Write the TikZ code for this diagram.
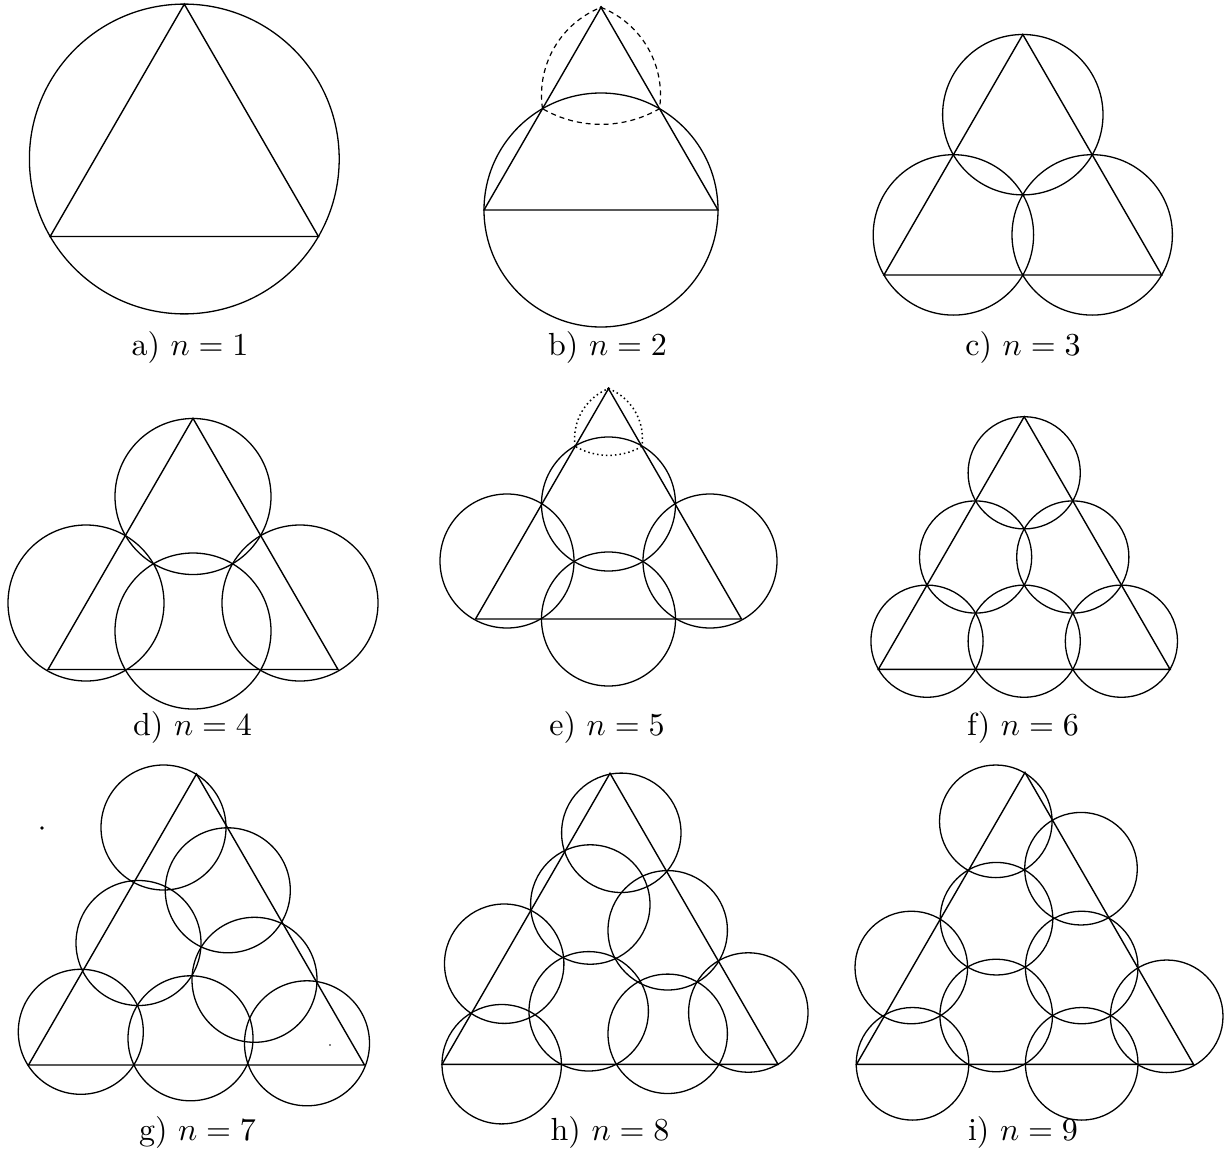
\documentclass[tikz,border=0pt]{standalone}
\usepackage{tikz}
\newcommand\eqtri[3]{\draw[triline] ({#1-#3/2},#2) -- ({#1+#3/2},#2) -- ({#1},{#2-0.8660254*#3}) -- cycle;}
\newcommand\lab[1]{\scalebox{3.2}{#1}}
\begin{document}
\begin{tikzpicture}[x=1pt,y=-1pt,
  triline/.style={draw=black,line width=1.4pt,line join=miter},
  disk/.style={draw=black,line width=1.3pt},
  dashb/.style={draw=black,line width=1.2pt,dash pattern=on 5pt off 4pt},
  dote/.style={draw=black,line width=1.5pt,dash pattern=on 1.5pt off 3pt},
  lbl/.style={anchor=base,inner sep=0pt}]
\useasboundingbox (0,0) rectangle (1232,1151);
% ---------- a) n=1
\eqtri{184.3}{236.5}{268.3}
\draw[disk] (184.3,159.0) circle[radius=154.9pt];
\node[lbl] (la) at (190,355) {\lab{a) $n=1$}};
% ---------- b) n=2
\eqtri{601}{210}{234}
\draw[disk] (601,210) circle[radius=117pt];
\draw[dashb] (635.8,95) ++(188.35:94.3pt)
  arc[start angle=188.35,end angle=111.66,radius=94.3pt]
  arc[start angle=68.34,end angle=-8.35,radius=94.3pt]
  arc[start angle=300,end angle=240,radius=117pt];
\fill (601,7.35) circle[radius=1.6pt];
\node[lbl] (lb) at (607.5,355) {\lab{b) $n=2$}};
% ---------- c) n=3
\eqtri{1022.8}{275}{277.7}
\draw[disk] (1022.8,114.7) circle[radius=80.2pt];
\draw[disk] (953.4,234.9) circle[radius=80.2pt];
\draw[disk] (1092.2,234.9) circle[radius=80.2pt];
\node[lbl] (lc) at (1023,355) {\lab{c) $n=3$}};
% ---------- d) n=4
\eqtri{193}{669.5}{290}
\draw[disk] (193,496.5) circle[radius=78pt];
\draw[disk] (86,603) circle[radius=78pt];
\draw[disk] (300,603) circle[radius=78pt];
\draw[disk] (193,631) circle[radius=78pt];
\node[lbl] (ld) at (192.5,735) {\lab{d) $n=4$}};
% ---------- e) n=5
\eqtri{608.5}{619}{266}
\draw[disk] (608.5,504) circle[radius=67pt];
\draw[disk] (507,561) circle[radius=67pt];
\draw[disk] (710,561) circle[radius=67pt];
\draw[disk] (608.5,619) circle[radius=67pt];
\draw[dote] (628.4,438.6) ++(188.35:53.8pt)
  arc[start angle=188.35,end angle=111.66,radius=53.8pt]
  arc[start angle=68.34,end angle=-8.35,radius=53.8pt]
  arc[start angle=300,end angle=240,radius=66.8pt];
\fill (608.5,388.6) circle[radius=1.6pt];
\node[lbl] (le) at (607,735) {\lab{e) $n=5$}};
% ---------- f) n=6
\eqtri{1024.2}{669.3}{291.7}
\foreach \p in {(1024.2,472.8),(975.6,557.0),(1072.8,557.0),(927.0,641.2),(1024.2,641.2),(1121.4,641.2)}
  \draw[disk] \p circle[radius=56.1pt];
\node[lbl] (lf) at (1023,735) {\lab{f) $n=6$}};
% ---------- g) n=7
\eqtri{196.5}{1065}{336}
\foreach \p in {(163.5,827.5),(227.8,890.3),(138.5,943),(254.5,979.8),(80.8,1031.8),(190.5,1038.3),(307,1043.3)}
  \draw[disk] \p circle[radius=62.5pt];
\fill (42,828) circle[radius=1.8pt];
\fill (330,1045) circle[radius=0.9pt];
\node[lbl] (lg) at (197.5,1140) {\lab{g) $n=7$}};
% ---------- h) n=8
\eqtri{610}{1064.3}{336}
\foreach \p in {(621.3,832.8),(590.3,904.5),(667.7,930.3),(504.2,963.7),(588.7,1011.3),(501.7,1064.2),(667.7,1033.8),(748.3,1012.5)}
  \draw[disk] \p circle[radius=59.7pt];
\node[lbl] (lh) at (610,1140) {\lab{h) $n=8$}};
% ---------- i) n=9
\eqtri{1025}{1064.3}{337}
\foreach \p in {(995.8,821.3),(1081,868.7),(996.5,918.7),(911.3,967.5),(1081.7,967.5),(996.2,1015.5),(912.5,1063.8),(1081.7,1063.8),(1166.7,1016.3)}
  \draw[disk] \p circle[radius=56.3pt];
\node[lbl] (li) at (1023,1140) {\lab{i) $n=9$}};
\end{tikzpicture}
\end{document}
